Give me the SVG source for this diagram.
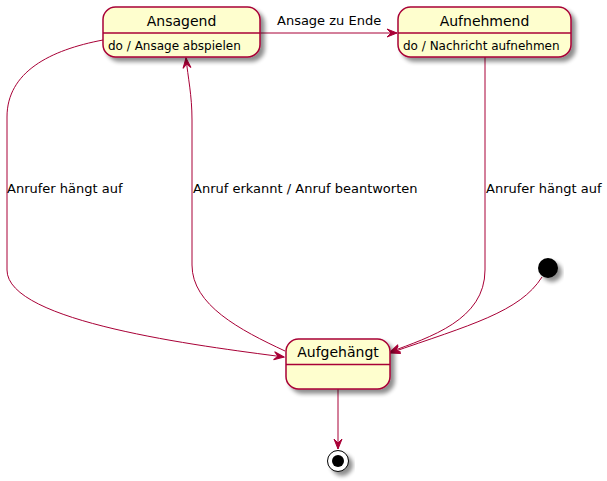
<svg xmlns="http://www.w3.org/2000/svg" width="607" height="481" viewBox="0 0 607 481">
<defs>
<filter id="sh" x="-20%" y="-20%" width="150%" height="160%">
<feGaussianBlur in="SourceAlpha" stdDeviation="2"/>
<feOffset dx="4" dy="4" result="b"/>
<feComponentTransfer><feFuncA type="linear" slope="0.45"/></feComponentTransfer>
<feMerge><feMergeNode/><feMergeNode in="SourceGraphic"/></feMerge>
</filter>
<marker id="ah" viewBox="-11 -6 12 12" refX="0" refY="0" markerWidth="12" markerHeight="12" markerUnits="userSpaceOnUse" orient="auto">
<path d="M0,0 L-10,-4 L-6,0 L-10,4 Z" fill="#A80036" stroke="#A80036" stroke-width="1"/>
</marker>
</defs>
<style>
.st{fill:#FEFECE;stroke:#A80036;stroke-width:1.5}
.dv{stroke:#A80036;stroke-width:1.5}
.nm{font-family:"DejaVu Sans",sans-serif;font-size:14px;fill:#000;text-anchor:middle}
.ds{font-family:"DejaVu Sans",sans-serif;font-size:12px;fill:#000}
.lb{font-family:"DejaVu Sans",sans-serif;font-size:13px;fill:#000}
.ed{fill:none;stroke:#A80036;stroke-width:1;marker-end:url(#ah)}
</style>
<rect width="607" height="481" fill="#fff"/>
<g id="connectors">
<path class="ed" d="M260,33 L397,33"/>
<path class="ed" d="M103,40 C50,50 7,72 7,117 L7,270 C7,322 200,346 284,357"/>
<path class="ed" d="M285,351 C240,330 192,305 192,265 L192,120 C192,95 188,78 186,58"/>
<path class="ed" d="M485,57 L485,270 C485,320 430,337 390,352"/>
<path class="ed" d="M542,277 C520,312 470,325 390,353"/>
<path class="ed" d="M338,389 L338,449"/>
<text class="lb" x="277" y="25">Ansage zu Ende</text>
<text class="lb" x="7" y="193">Anrufer hängt auf</text>
<text class="lb" x="193" y="193">Anruf erkannt / Anruf beantworten</text>
<text class="lb" x="486" y="193">Anrufer hängt auf</text>
</g>
<g id="Ansagend">
<rect class="st" x="103" y="7" width="157" height="50" rx="12.5" filter="url(#sh)"/>
<line class="dv" x1="103" y1="33" x2="260" y2="33"/>
<text class="nm" x="181.5" y="26">Ansagend</text>
<text class="ds" x="108" y="50">do / Ansage abspielen</text>
</g>
<g id="Aufnehmend">
<rect class="st" x="398" y="7" width="173" height="50" rx="12.5" filter="url(#sh)"/>
<line class="dv" x1="398" y1="33" x2="571" y2="33"/>
<text class="nm" x="484.5" y="26">Aufnehmend</text>
<text class="ds" x="403" y="50">do / Nachricht aufnehmen</text>
</g>
<g id="Aufgehaengt">
<rect class="st" x="286" y="339" width="104" height="50" rx="12.5" filter="url(#sh)"/>
<line class="dv" x1="286" y1="364.5" x2="390" y2="364.5"/>
<text class="nm" x="338" y="357">Aufgehängt</text>
</g>
<g id="start">
<circle cx="548" cy="268" r="10" fill="#000" filter="url(#sh)"/>
</g>
<g id="end">
<circle cx="338" cy="461" r="10.5" fill="#fff" stroke="#000" stroke-width="1" filter="url(#sh)"/>
<circle cx="338" cy="461" r="6" fill="#000"/>
</g>
</svg>
